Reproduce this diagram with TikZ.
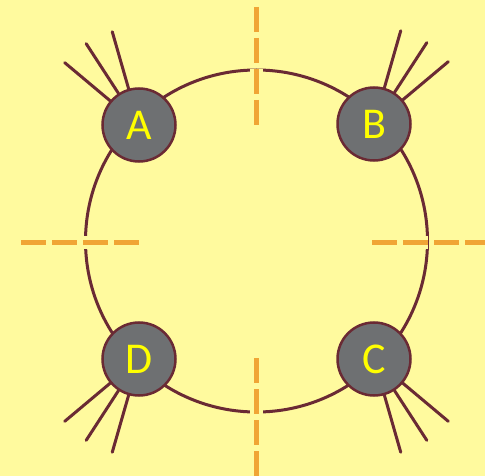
\documentclass[tikz,border=0pt]{standalone}
\usepackage{fontspec}
\setmainfont{Carlito}
\usetikzlibrary{calc}
\definecolor{bg}{HTML}{FFFA9E}
\definecolor{rim}{HTML}{6A2A34}
\definecolor{ballfill}{HTML}{6E7072}
\definecolor{dashor}{HTML}{F0A535}
\definecolor{lab}{HTML}{FFFF00}
\begin{document}
\begin{tikzpicture}[x=1pt,y=-1pt,
  ball/.style={circle,draw=rim,line width=2.5pt,fill=ballfill,minimum size=73pt,inner sep=0pt,text=lab,font=\fontsize{44}{44}\selectfont},
  ray/.style={draw=rim,line width=3pt,line cap=round},
  ring/.style={draw=rim,line width=3pt},
  axisgap/.style={draw=bg,line width=13pt,dash pattern=on 25pt off 6pt},
  axisline/.style={draw=dashor,line width=5pt,dash pattern=on 25pt off 6pt}]
\fill[bg] (0,0) rectangle (485,476);
\useasboundingbox (0,0) rectangle (485,476);
\coordinate (O) at (256.5,241);
\draw[ring] (O) circle[radius=171pt];
% dashed axes
\coordinate (t1) at (256.5,7);   \coordinate (t2) at (256.5,125);
\coordinate (b1) at (256.5,358); \coordinate (b2) at (256.5,490);
\coordinate (l1) at (21,242);    \coordinate (l2) at (140,242);
\coordinate (r1) at (372,242);   \coordinate (r2) at (495,242);
\foreach \s/\e in {t1/t2,b1/b2,l1/l2,r1/r2}{
  \draw[axisgap] (\s) -- (\e);
  \draw[axisline] (\s) -- (\e);
}
% balls
\node[ball] (A) at (139,125) {A};
\node[ball] (B) at (374,124) {B};
\node[ball] (C) at (374,359) {C};
\node[ball] (D) at (139,359) {D};
% rays
\foreach \n/\a in {A/140,A/123,A/106,B/74,B/57,B/40,C/-40,C/-57,C/-74,D/220,D/237,D/254}{
  \coordinate (\n r\a) at ($(\n)+(\a:97pt)$);
  \draw[ray] (\n.\a) -- (\n r\a);
}
\end{tikzpicture}
\end{document}
